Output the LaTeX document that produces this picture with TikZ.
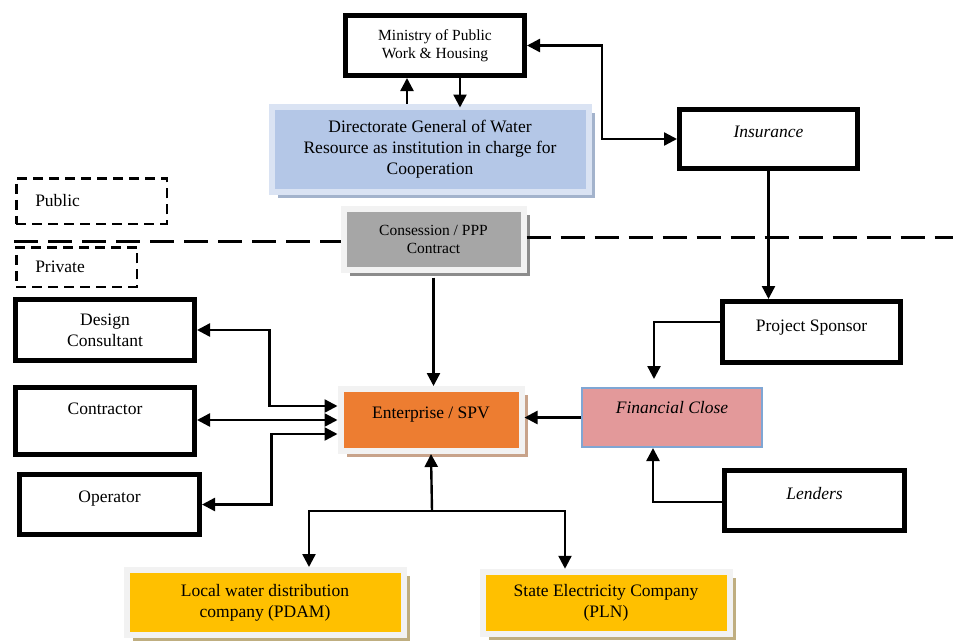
\documentclass[tikz,border=0pt]{standalone}
\usepackage{fontspec}
\setmainfont{Liberation Serif}
\usetikzlibrary{arrows.meta, shadows}
\definecolor{framegray}{HTML}{F2F2F2}
\definecolor{dirblue}{HTML}{B4C7E7}
\definecolor{dirframe}{HTML}{DAE3F3}
\definecolor{dirshadow}{HTML}{A3B3CC}
\definecolor{consgray}{HTML}{A6A6A6}
\definecolor{consshadow}{HTML}{8C8C8C}
\definecolor{entorange}{HTML}{ED7D31}
\definecolor{entshadow}{HTML}{C8A38A}
\definecolor{utilyellow}{HTML}{FFC000}
\definecolor{utilshadow}{HTML}{BFAE80}
\definecolor{fcpink}{HTML}{E3999A}
\definecolor{fcblue}{HTML}{7FA6D4}
\tikzset{
    labelfont/.style={font=\fontsize{17.5}{21}\selectfont},
    smallfont/.style={font=\fontsize{15.5}{18}\selectfont},
    party/.style={rectangle, draw=black, line width=5pt, fill=white, align=center, labelfont},
    panel/.style={rectangle, draw=framegray, line width=6pt, align=center, labelfont, drop shadow={shadow xshift=6pt, shadow yshift=-6pt, fill=#1, opacity=1}},
    zone/.style={rectangle, draw=black, line width=2.5pt, dash pattern=on 10pt off 6pt, inner xsep=19pt, align=left, labelfont, text width=#1},
    topline/.style={text height=12pt, text depth=#1},
    arrow/.style={line width=2.4pt, -{Triangle[length=13pt, width=13pt]}},
    biarrow/.style={line width=2.4pt, {Triangle[length=13pt, width=13pt]}-{Triangle[length=13pt, width=13pt]}},
    divider/.style={line width=3pt, dash pattern=on 24pt off 10pt}
}
\begin{document}
\begin{tikzpicture}[x=1pt, y=-1pt]
    \useasboundingbox (0,0) rectangle (953,641);

    % public side
    \node (ministry) [party, smallfont, minimum width=179pt, minimum height=60pt] at (435,45.5) {Ministry of Public\\Work \& Housing};
    \node (dgwr) [panel=dirshadow, draw=dirframe, fill=dirblue, minimum width=317pt, minimum height=85pt] at (430,149) {Directorate General of Water\\Resource as institution in charge for\\Cooperation};
    \node (insurance) [party, topline=16pt, minimum width=178pt, minimum height=59pt] at (768.5,139) {\textit{Insurance}};
    \node (contract) [panel=consshadow, fill=consgray, smallfont, minimum width=180pt, minimum height=61pt] at (433.5,239) {Consession / PPP\\Contract};

    % zones
    \node (public) [zone=112.5pt, minimum height=45.5pt] at (91.5,201) {Public};
    \node (private) [zone=82.5pt, minimum height=39.5pt] at (76.5,267) {Private};
    \coordinate (divL) at (14,241);
    \coordinate (divR) at (953,237);
    \draw [divider] (divL) -- (divL -| contract.west);
    \draw [divider] (contract.east |- divR) -- (divR);

    % private side
    \node (designer) [party, minimum width=179pt, minimum height=61pt] at (105,330) {Design\\Consultant};
    \node (contractor) [party, topline=26pt, minimum width=179pt, minimum height=67pt] at (105,421) {Contractor};
    \node (operator) [party, topline=17pt, minimum width=180pt, minimum height=60pt] at (109.5,504.5) {Operator};
    \node (spv) [panel=entshadow, fill=entorange, topline=16pt, minimum width=181pt, minimum height=62pt] at (431,420) {Enterprise / SPV};
    \node (sponsor) [party, topline=14pt, minimum width=178pt, minimum height=61pt] at (811.5,332) {Project Sponsor};
    \node (finclose) [rectangle, draw=fcblue, line width=2pt, fill=fcpink, labelfont, topline=20pt, minimum width=180pt, minimum height=59pt] at (672,417.5) {\textit{Financial Close}};
    \node (lenders) [party, topline=15pt, minimum width=180pt, minimum height=60pt] at (814.5,500.5) {\textit{Lenders}};
    \node (pdam) [panel=utilshadow, fill=utilyellow, minimum width=277pt, minimum height=65pt] at (265,602.5) {Local water distribution\\company (PDAM)};
    \node (pln) [panel=utilshadow, fill=utilyellow, minimum width=247pt, minimum height=62.5pt] at (606,603) {State Electricity Company\\(PLN)};

    % connectors
    \draw [arrow] ([xshift=-23pt]dgwr.north) -- ([xshift=-23pt]dgwr.north |- ministry.south);
    \draw [arrow] ([xshift=30pt]dgwr.north |- ministry.south) -- ([xshift=30pt, yshift=-4pt]dgwr.north);
    \draw [biarrow] (ministry.east) -- ++(75,0) |- (insurance.west);
    \draw [arrow] (insurance.south) -- (insurance.south |- sponsor.north);
    \draw [arrow, shorten >=8pt] ([yshift=10pt]sponsor.west) -| ([xshift=-18pt]finclose.north);
    \draw [arrow] ([yshift=-1.5pt]lenders.west) -| ([xshift=-19pt]finclose.south);
    \draw [arrow] (finclose.west) -- (finclose.west -| spv.east);
    \draw [arrow, shorten <=5pt] (contract.south) -- (contract.south |- spv.north);
    \draw [biarrow] ([yshift=14pt]spv.west) -- ++(-68,0) |- (designer.east);
    \draw [biarrow] (spv.west) -- (spv.west -| contractor.east);
    \draw [biarrow] ([yshift=-14pt]spv.west) -- ++(-66,0) |- (operator.east);
    \coordinate (split) at (432,511);
    \draw [arrow] (split) -- (spv.south);
    \draw [arrow] (split) -| ([xshift=44pt]pdam.north);
    \draw [arrow] (split) -| ([xshift=-41pt]pln.north);
\end{tikzpicture}
\end{document}
